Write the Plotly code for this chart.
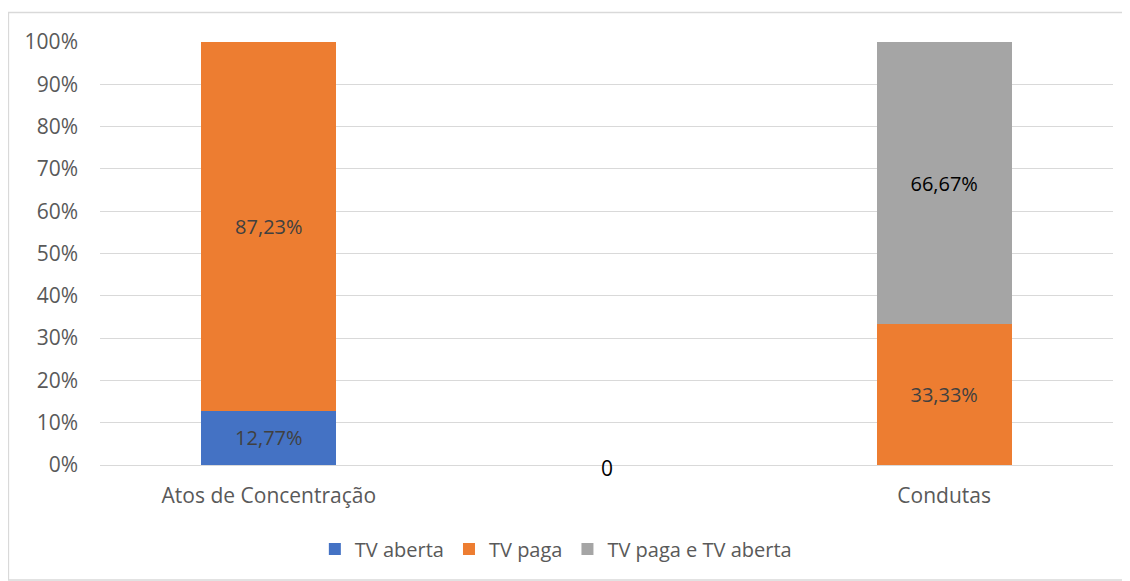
import plotly.graph_objects as go

categories = ["Atos de Concentração", " ", "Condutas"]
tv_aberta = [12.77, 0, 0]
tv_paga = [87.23, 0, 33.33]
tv_ambas = [0, 0, 66.67]
zero_label_cat = [" "]
zero_label_val = [0]

series_names = ["TV aberta", "TV paga", "TV paga e TV aberta"]
colors = ["#4472C4", "#ED7D31", "#A5A5A5"]
label_colors = ["#404040", "#404040", "#000000"]

FONT = "Open Sans, sans-serif"
TICK_FS = 21
LABEL_FS = 20
LEG_FS = 20

def fmt(v):
    return f"{v:.2f}".replace(".", ",") + "%" if v > 0 else ""

fig = go.Figure()
for name, vals, col, lc in zip(series_names, [tv_aberta, tv_paga, tv_ambas], colors, label_colors):
    fig.add_trace(go.Bar(
        x=categories, y=vals, name=name,
        marker=dict(color=col, line=dict(width=0)),
        text=[fmt(v) for v in vals], textposition="inside",
        insidetextanchor="middle", textangle=0,
        textfont=dict(family=FONT, size=LABEL_FS, color=lc),
        hoverinfo="skip",
    ))

for c, v in zip(zero_label_cat, zero_label_val):
    fig.add_annotation(x=c, y=v, text=str(v), showarrow=False, yshift=-3,
                       font=dict(family=FONT, size=LABEL_FS + 1, color="#000000"))

# page body has an 8px margin, so the figure starts at (8, 8)
OFF = 8
L, R, T, B = 100 - OFF, 17, 42 - OFF, 116
W, H = 1130 - OFF, 581 - OFF
pw, ph = W - L - R, H - T - B

def px_to_paper_x(px):
    return (px - OFF - L) / pw

def py_to_paper_y(py):
    return (H - B - (py - OFF)) / ph

fig.add_shape(type="rect", xref="paper", yref="paper",
              x0=px_to_paper_x(8.5), x1=px_to_paper_x(1140),
              y0=py_to_paper_y(580), y1=py_to_paper_y(12.5),
              line=dict(color="#D9D9D9", width=1.3), fillcolor="rgba(0,0,0,0)", layer="below")

fig.update_layout(
    width=W, height=H,
    margin=dict(l=L, r=R, t=T, b=B, pad=0),
    barmode="stack", bargap=0.6,
    plot_bgcolor="white", paper_bgcolor="white",
    font=dict(family=FONT, size=TICK_FS, color="#595959"),
    xaxis=dict(type="category", showgrid=False, showline=False, ticks="",
               ticklabelstandoff=16,
               tickfont=dict(family=FONT, size=TICK_FS, color="#595959")),
    yaxis=dict(range=[0, 100], dtick=10, ticksuffix="%", showgrid=True,
               gridcolor="#D9D9D9", gridwidth=1.3, zeroline=True, zerolinecolor="#D9D9D9",
               zerolinewidth=1.3, showline=False, ticks="", ticklen=0,
               ticklabelstandoff=21,
               tickfont=dict(family=FONT, size=TICK_FS, color="#595959")),
    legend=dict(orientation="h", x=0.45, xanchor="center", y=py_to_paper_y(549), yanchor="middle",
                font=dict(family=FONT, size=LEG_FS, color="#595959"), traceorder="normal",
                itemwidth=30),
    showlegend=True,
)

fig.write_html("out.html")
